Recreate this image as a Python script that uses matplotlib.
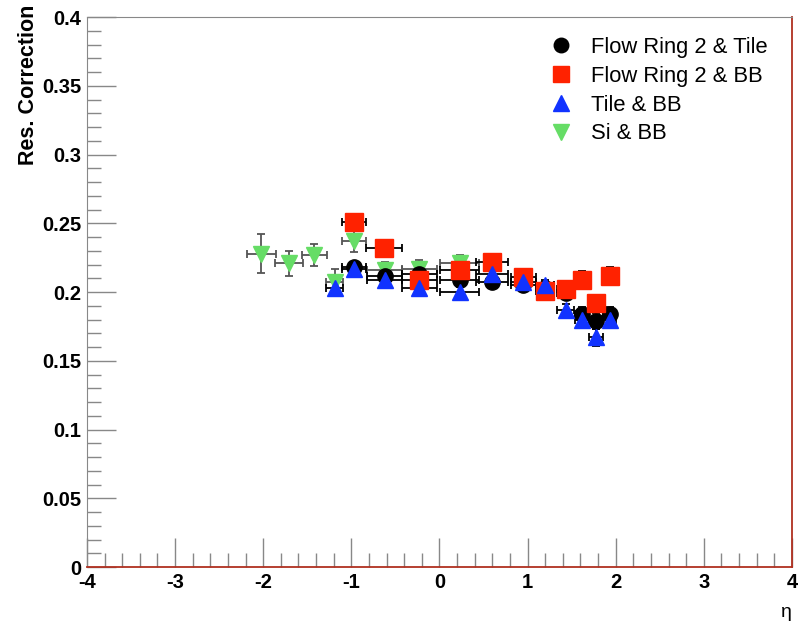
import matplotlib
matplotlib.use("Agg")
import matplotlib.pyplot as plt
from matplotlib.ticker import MultipleLocator

plt.rcParams['font.family'] = ['Liberation Sans', 'DejaVu Sans']

# Flow Ring 2 & Tile (black circles)
eta_k = [-0.97, -0.62, -0.23, 0.23, 0.60, 0.95, 1.20, 1.43, 1.62, 1.78, 1.93]
val_k = [0.218, 0.212, 0.213, 0.209, 0.207, 0.205, 0.203, 0.199, 0.184, 0.179, 0.184]
xerr_k = [0.14, 0.20, 0.20, 0.22, 0.18, 0.14, 0.10, 0.10, 0.08, 0.08, 0.07]
yerr_k = [0.004, 0.004, 0.004, 0.004, 0.004, 0.004, 0.004, 0.004, 0.005, 0.006, 0.005]

# Flow Ring 2 & BB (red squares)
eta_r = [-0.97, -0.63, -0.23, 0.23, 0.60, 0.95, 1.20, 1.43, 1.62, 1.78, 1.93]
val_r = [0.251, 0.232, 0.209, 0.216, 0.222, 0.211, 0.201, 0.202, 0.209, 0.192, 0.212]
xerr_r = [0.14, 0.20, 0.20, 0.22, 0.18, 0.14, 0.10, 0.10, 0.08, 0.08, 0.07]
yerr_r = [0.004, 0.004, 0.004, 0.004, 0.004, 0.004, 0.004, 0.004, 0.006, 0.006, 0.006]

# Tile & BB (blue triangles)
eta_b = [-1.19, -0.97, -0.62, -0.23, 0.23, 0.60, 0.95, 1.20, 1.43, 1.62, 1.78, 1.93]
val_b = [0.203, 0.217, 0.209, 0.203, 0.200, 0.213, 0.207, 0.205, 0.187, 0.180, 0.167, 0.180]
xerr_b = [0.10, 0.14, 0.20, 0.20, 0.22, 0.18, 0.14, 0.10, 0.10, 0.08, 0.08, 0.07]
yerr_b = [0.004, 0.004, 0.004, 0.004, 0.004, 0.004, 0.004, 0.004, 0.004, 0.005, 0.006, 0.005]

# Si & BB (green inverted triangles)
eta_g = [-2.02, -1.71, -1.42, -1.19, -0.97, -0.62, -0.23, 0.23]
val_g = [0.228, 0.221, 0.227, 0.207, 0.237, 0.216, 0.217, 0.221]
xerr_g = [0.16, 0.16, 0.14, 0.10, 0.14, 0.20, 0.20, 0.22]
yerr_g = [0.014, 0.009, 0.008, 0.010, 0.008, 0.006, 0.006, 0.006]

labels = ["Flow Ring 2 & Tile", "Flow Ring 2 & BB", "Tile & BB", "Si & BB"]
xticks = [-4, -3, -2, -1, 0, 1, 2, 3, 4]
xticklabels = ['-4', '-3', '-2', '-1', '0', '1', '2', '3', '4']
yticks = [0, 0.05, 0.1, 0.15, 0.2, 0.25, 0.3, 0.35, 0.4]
yticklabels = ['0', '0.05', '0.1', '0.15', '0.2', '0.25', '0.3', '0.35', '0.4']

fig = plt.figure(figsize=(8.03, 6.26), dpi=100)
ax = fig.add_axes([0.1083, 0.0942, 0.8780, 0.8786])

common = dict(linestyle='none', elinewidth=1.3, capsize=3, capthick=1.3)
ax.errorbar(eta_g, val_g, xerr=xerr_g, yerr=yerr_g, marker='v', ms=12,
            color='#66dd66', mec='#66dd66', ecolor='#555555', label=labels[3], **common)
ax.errorbar(eta_k, val_k, xerr=xerr_k, yerr=yerr_k, marker='o', ms=11,
            color='black', ecolor='black', label=labels[0], **common)
ax.errorbar(eta_r, val_r, xerr=xerr_r, yerr=yerr_r, marker='s', ms=12.5,
            color='#ff2200', mec='#ff2200', ecolor='black', label=labels[1], **common)
ax.errorbar(eta_b, val_b, xerr=xerr_b, yerr=yerr_b, marker='^', ms=12,
            color='#1133ff', mec='#1133ff', ecolor='black', label=labels[2], **common)

ax.set_xlim(-4, 4)
ax.set_ylim(0, 0.4)
ax.xaxis.set_minor_locator(MultipleLocator(0.2))
ax.yaxis.set_minor_locator(MultipleLocator(0.01))
ax.tick_params(which='both', direction='in', top=False, right=False, color='#888888')
ax.tick_params(which='major', length=21, width=1, pad=4)
ax.tick_params(which='minor', length=10, width=1)
ax.set_yticks(yticks)
ax.set_yticklabels(yticklabels, fontweight='bold', fontsize=14.5)
ax.set_xticks(xticks)
ax.set_xticklabels(xticklabels, fontweight='bold', fontsize=14.5)

for side in ['left', 'top']:
    ax.spines[side].set_color('#888888')
for side in ['right', 'bottom']:
    ax.spines[side].set_color('#b03020')
    ax.spines[side].set_linewidth(1.3)

ax.set_ylabel('Res. Correction', fontsize=15.5, fontweight='bold', ha='right', va='center')
ax.yaxis.set_label_coords(-0.083, 1.022)
ax.set_xlabel('η', fontsize=14, ha='right', va='center')
ax.xaxis.set_label_coords(1.0, -0.082)

handles, labs = ax.get_legend_handles_labels()
hs = []
for l in labels:
    h = handles[labs.index(l)]
    hs.append(h[0])
ax.legend(hs, labels, loc='upper left', bbox_to_anchor=(0.626, 1.0), frameon=False,
          fontsize=15.8, handletextpad=0.75, labelspacing=0.36, handlelength=1.2,
          markerscale=0.95)

fig.savefig('out.png', dpi=100)
